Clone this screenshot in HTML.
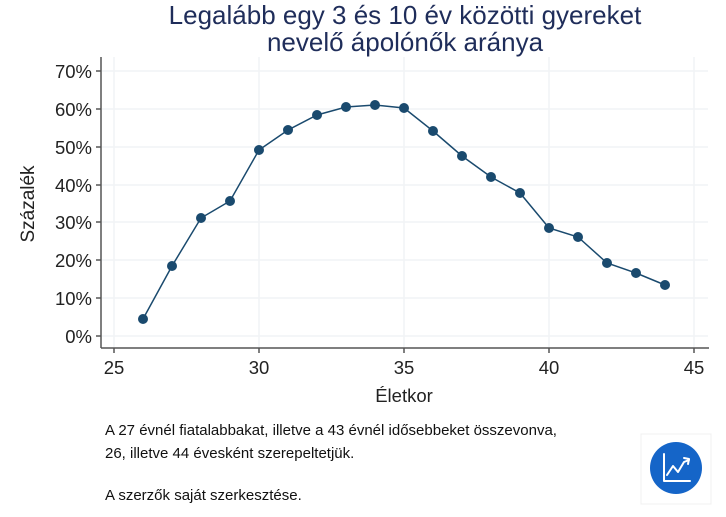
<!DOCTYPE html>
<html><head><meta charset="utf-8"><style>
body{margin:0;background:#fff;}
svg{display:block;font-family:"Liberation Sans",sans-serif;}
</style></head><body>
<svg width="726" height="517" viewBox="0 0 726 517">
<text x="405" y="24" text-anchor="middle" font-size="26" fill="#1f2d5a">Legalább egy 3 és 10 év közötti gyereket</text>
<text x="405" y="51" text-anchor="middle" font-size="26" fill="#1f2d5a">nevelő ápolónők aránya</text>
<g stroke="#f1f3f5" stroke-width="1.5">
<line x1="102" y1="71" x2="708" y2="71"/><line x1="102" y1="109" x2="708" y2="109"/>
<line x1="102" y1="147" x2="708" y2="147"/><line x1="102" y1="185" x2="708" y2="185"/>
<line x1="102" y1="222" x2="708" y2="222"/><line x1="102" y1="260" x2="708" y2="260"/>
<line x1="102" y1="298" x2="708" y2="298"/><line x1="102" y1="336" x2="708" y2="336"/>
<line x1="114" y1="57" x2="114" y2="347"/><line x1="259" y1="57" x2="259" y2="347"/>
<line x1="404" y1="57" x2="404" y2="347"/><line x1="549" y1="57" x2="549" y2="347"/>
<line x1="694" y1="57" x2="694" y2="347"/>
</g>
<g stroke="#555" stroke-width="1.5">
<line x1="101" y1="57" x2="101" y2="348"/><line x1="101" y1="348" x2="709" y2="348"/>
<line x1="96" y1="71" x2="101" y2="71"/><line x1="96" y1="109" x2="101" y2="109"/>
<line x1="96" y1="147" x2="101" y2="147"/><line x1="96" y1="185" x2="101" y2="185"/>
<line x1="96" y1="222" x2="101" y2="222"/><line x1="96" y1="260" x2="101" y2="260"/>
<line x1="96" y1="298" x2="101" y2="298"/><line x1="96" y1="336" x2="101" y2="336"/>
<line x1="114" y1="348" x2="114" y2="353"/><line x1="259" y1="348" x2="259" y2="353"/>
<line x1="404" y1="348" x2="404" y2="353"/><line x1="549" y1="348" x2="549" y2="353"/>
<line x1="694" y1="348" x2="694" y2="353"/>
</g>
<g font-size="18.5" fill="#222" text-anchor="end">
<text x="92" y="78">70%</text><text x="92" y="116">60%</text><text x="92" y="154">50%</text>
<text x="92" y="192">40%</text><text x="92" y="229">30%</text><text x="92" y="267">20%</text>
<text x="92" y="305">10%</text><text x="92" y="343">0%</text>
</g>
<g font-size="18.5" fill="#222" text-anchor="middle">
<text x="114" y="374">25</text><text x="259" y="374">30</text><text x="404" y="374">35</text>
<text x="549" y="374">40</text><text x="694" y="374">45</text>
<text x="404" y="402">Életkor</text>
</g>
<text transform="translate(34,204) rotate(-90)" font-size="19" fill="#222" text-anchor="middle">Százalék</text>
<polyline fill="none" stroke="#1a4a6e" stroke-width="1.5" points="143,319 172,266 201,218 230,201 259,150 288,130 317,115 346,107 375,105 404,108 433,131 462,156 491,177 520,193 549,228 578,237 607,263 636,273 665,285"/>
<g fill="#1a4a6e">
<circle cx="143" cy="319" r="5"/><circle cx="172" cy="266" r="5"/><circle cx="201" cy="218" r="5"/>
<circle cx="230" cy="201" r="5"/><circle cx="259" cy="150" r="5"/><circle cx="288" cy="130" r="5"/>
<circle cx="317" cy="115" r="5"/><circle cx="346" cy="107" r="5"/><circle cx="375" cy="105" r="5"/>
<circle cx="404" cy="108" r="5"/><circle cx="433" cy="131" r="5"/><circle cx="462" cy="156" r="5"/>
<circle cx="491" cy="177" r="5"/><circle cx="520" cy="193" r="5"/><circle cx="549" cy="228" r="5"/>
<circle cx="578" cy="237" r="5"/><circle cx="607" cy="263" r="5"/><circle cx="636" cy="273" r="5"/>
<circle cx="665" cy="285" r="5"/>
</g>
<g font-size="15" fill="#111">
<text x="105" y="435">A 27 évnél fiatalabbakat, illetve a 43 évnél idősebbeket összevonva,</text>
<text x="105" y="458">26, illetve 44 évesként szerepeltetjük.</text>
<text x="105" y="500">A szerzők saját szerkesztése.</text>
</g>
<rect x="641" y="434" width="70" height="70" fill="#fff" stroke="#f0f0f0"/>
<circle cx="676" cy="468" r="26" fill="#1565c8"/>
<g stroke="#fff" stroke-width="2" fill="none" stroke-linecap="round" stroke-linejoin="round">
<polyline points="664,454 664,481 690,481"/>
<polyline points="667,475 673,466 678,472 684,462 689,460"/>
<polyline points="684,458 689,459 688,464"/>
</g>
</svg>
</body></html>
